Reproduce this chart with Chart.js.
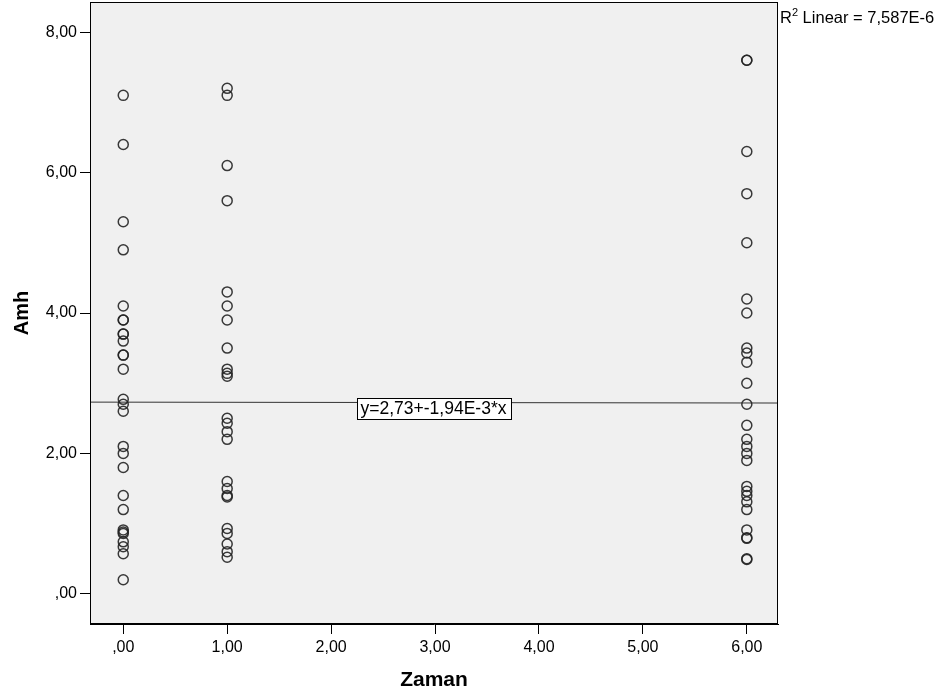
<!DOCTYPE html>
<html>
<head>
<meta charset="utf-8">
<script src="https://cdn.jsdelivr.net/npm/chart.js@4/dist/chart.umd.min.js"></script>
<style>
	html, body { margin: 0; padding: 0; background: #ffffff; }
	#wrap { width: 941px; height: 699px; position: relative; }
</style>
</head>
<body>
<div id="wrap"><canvas id="chart"></canvas></div>
<script>
'use strict';

// Zaman = 0
let amhZaman0 = [7.1, 6.4, 5.3, 4.9, 4.1, 3.9, 3.9, 3.7, 3.7, 3.6, 3.4, 3.4, 3.2, 2.77, 2.7, 2.6, 2.1, 2.0, 1.8, 1.4, 1.2, 0.91, 0.88, 0.86, 0.74, 0.67, 0.57, 0.2];
// Zaman = 1
let amhZaman1 = [7.2, 7.1, 6.1, 5.6, 4.3, 4.1, 3.9, 3.5, 3.2, 3.14, 3.1, 2.5, 2.43, 2.31, 2.2, 1.6, 1.5, 1.4, 1.38, 0.93, 0.86, 0.71, 0.6, 0.52];
// Zaman = 6
let amhZaman6 = [7.6, 7.6, 6.3, 5.7, 5.0, 4.2, 4.0, 3.5, 3.43, 3.3, 3.0, 2.7, 2.4, 2.2, 2.1, 2.0, 1.9, 1.53, 1.46, 1.4, 1.31, 1.2, 0.91, 0.8, 0.79, 0.5, 0.49];
let zamanValues = [0, 1, 6];

let xTicks = [0, 1, 2, 3, 4, 5, 6];
let yTicks = [0, 2, 4, 6, 8];
let xRange = [-0.32, 6.3];
let yRange = [-0.43, 8.43];

// fit line
let intercept = 2.73;
let slope = -0.00194;
let fitLabel = 'y=2,73+-1,94E-3*x';
let fitLabelX = 2.985;
let rSquaredText = ' Linear = 7,587E-6';

let points = [];
let groups = [amhZaman0, amhZaman1, amhZaman6];
for(let g = 0; g < groups.length; g++){
	for(let i = 0; i < groups[g].length; i++){
		points.push({x: zamanValues[g], y: groups[g][i]});
	}
}
let fitPoints = [
	{x: xRange[0], y: intercept + slope * xRange[0]},
	{x: xRange[1], y: intercept + slope * xRange[1]}
];

function trFormat(v){
	let s = Number(v).toFixed(2).replace('.', ',');
	if(s.indexOf('0,') === 0) s = s.substring(1);
	return s;
}

let FONT = "'Liberation Sans', Arial, sans-serif";

let plotPlugin = {
	id: 'plotBox',
	beforeDraw(chart){
		let ctx = chart.ctx;
		let a = chart.chartArea;
		ctx.save();
		ctx.fillStyle = '#f0f0f0';
		ctx.fillRect(a.left, a.top, a.right - a.left, a.bottom - a.top);
		ctx.restore();
	},
	afterDraw(chart){
		let ctx = chart.ctx;
		let a = chart.chartArea;
		ctx.save();
		ctx.strokeStyle = '#000000';
		ctx.lineWidth = 1;
		ctx.strokeRect(a.left + 0.5, a.top + 0.5, a.right - a.left - 1, a.bottom - a.top - 1);

		// fit label box (sits a little below the line)
		let px = chart.scales.x.getPixelForValue(fitLabelX);
		let py = chart.scales.y.getPixelForValue(intercept + slope * fitLabelX) + 6;
		ctx.font = '17.5px ' + FONT;
		let w = ctx.measureText(fitLabel).width + 8;
		let h = 21;
		ctx.fillStyle = '#ffffff';
		ctx.fillRect(Math.round(px - w / 2) + 0.5, Math.round(py - h / 2) + 0.5, Math.round(w), h);
		ctx.strokeStyle = '#000000';
		ctx.strokeRect(Math.round(px - w / 2) + 0.5, Math.round(py - h / 2) + 0.5, Math.round(w), h);
		ctx.fillStyle = '#000000';
		ctx.textAlign = 'center';
		ctx.textBaseline = 'middle';
		ctx.fillText(fitLabel, px, py + 1);

		// R2 label
		ctx.textAlign = 'left';
		ctx.textBaseline = 'alphabetic';
		ctx.font = '16.5px ' + FONT;
		let rx = a.right + 2;
		ctx.fillText('R', rx, 23);
		let rw = ctx.measureText('R').width;
		ctx.font = '11px ' + FONT;
		ctx.fillText('2', rx + rw, 16);
		let sw = ctx.measureText('2').width;
		ctx.font = '16.5px ' + FONT;
		ctx.fillText(rSquaredText, rx + rw + sw, 23);
		ctx.restore();
	}
};

new Chart(document.getElementById('chart'), {
	type: 'scatter',
	data: {
		datasets: [{
			label: 'Amh',
			data: points,
			pointStyle: 'circle',
			pointRadius: 5,
			pointHoverRadius: 5,
			pointBorderWidth: 1.5,
			pointBorderColor: 'rgba(35, 35, 35, 0.9)',
			pointBackgroundColor: 'rgba(0, 0, 0, 0)'
		}, {
			type: 'line',
			label: 'fit',
			data: fitPoints,
			borderColor: '#333333',
			borderWidth: 1,
			pointRadius: 0,
			fill: false
		}]
	},
	options: {
		responsive: true,
		maintainAspectRatio: false,
		animation: false,
		layout: { autoPadding: false, padding: { top: 2, right: 163, left: 0, bottom: 0 } },
		plugins: {
			legend: { display: false },
			tooltip: { enabled: false }
		},
		scales: {
			x: {
				type: 'linear',
				min: xRange[0],
				max: xRange[1],
				afterBuildTicks: (s) => { s.ticks = xTicks.map(v => ({value: v})); },
				afterFit: (s) => { s.height = 75; s.paddingLeft = 0; s.paddingRight = 0; },
				grid: { drawOnChartArea: false, drawTicks: true, tickLength: 10, color: '#000000' },
				border: { display: true, color: '#000000' },
				ticks: {
					color: '#000000',
					padding: 4,
					maxRotation: 0,
					font: { family: FONT, size: 16 },
					callback: (v) => trFormat(v)
				},
				title: {
					display: true,
					text: 'Zaman',
					color: '#000000',
					padding: { top: 0, bottom: 6 },
					font: { family: FONT, size: 21, weight: 'bold' }
				}
			},
			y: {
				type: 'linear',
				min: yRange[0],
				max: yRange[1],
				afterBuildTicks: (s) => { s.ticks = yTicks.map(v => ({value: v})); },
				afterFit: (s) => { s.width = 90; s.paddingTop = 0; s.paddingBottom = 0; },
				grid: { drawOnChartArea: false, drawTicks: true, tickLength: 10, color: '#000000' },
				border: { display: true, color: '#000000' },
				ticks: {
					color: '#000000',
					padding: 3,
					font: { family: FONT, size: 16 },
					callback: (v) => trFormat(v)
				},
				title: {
					display: true,
					text: 'Amh',
					color: '#000000',
					padding: { top: 10, bottom: 0 },
					font: { family: FONT, size: 20, weight: 'bold' }
				}
			}
		}
	},
	plugins: [plotPlugin]
});
</script>
</body>
</html>
